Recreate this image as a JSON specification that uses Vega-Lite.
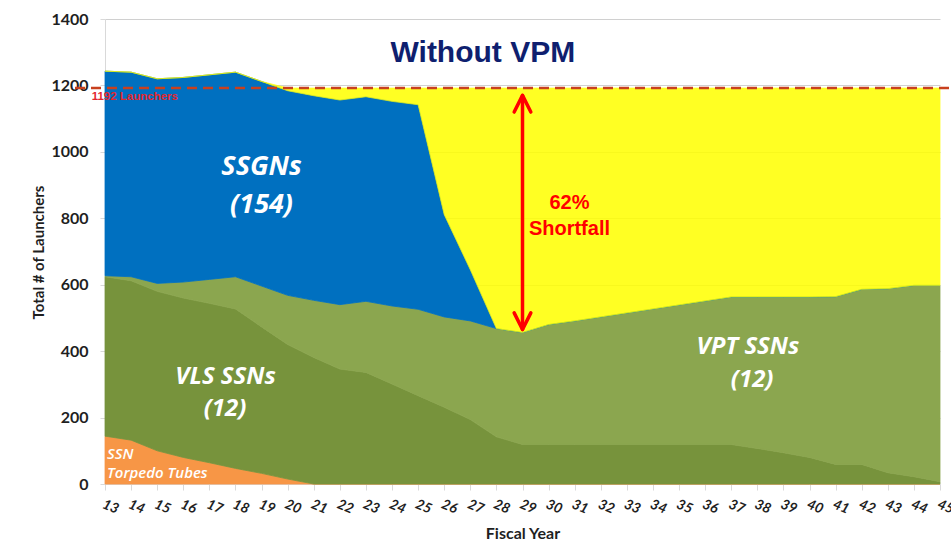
{
  "$schema": "https://vega.github.io/schema/vega-lite/v6.json",
  "width": 835,
  "height": 465,
  "autosize": {"type": "none"},
  "padding": {"left": 105, "top": 19, "right": 11, "bottom": 64},
  "background": "white",
  "config": {"view": {"stroke": null}, "font": "Lato"},
  "layer": [
    {
      "data": {
        "values": [
          {"fy": 13, "s1_torpedo": 144, "s2_vls": 480, "s3_vpt": 3, "s4_ssgn": 616, "s5_gap": 0},
          {"fy": 14, "s1_torpedo": 132, "s2_vls": 480, "s3_vpt": 12, "s4_ssgn": 616, "s5_gap": 0},
          {"fy": 15, "s1_torpedo": 100, "s2_vls": 480, "s3_vpt": 24, "s4_ssgn": 616, "s5_gap": 0},
          {"fy": 16, "s1_torpedo": 80, "s2_vls": 480, "s3_vpt": 48, "s4_ssgn": 616, "s5_gap": 0},
          {"fy": 17, "s1_torpedo": 64, "s2_vls": 480, "s3_vpt": 72, "s4_ssgn": 616, "s5_gap": 0},
          {"fy": 18, "s1_torpedo": 47, "s2_vls": 480, "s3_vpt": 97, "s4_ssgn": 616, "s5_gap": 0},
          {"fy": 19, "s1_torpedo": 32, "s2_vls": 441, "s3_vpt": 123, "s4_ssgn": 616, "s5_gap": 0},
          {"fy": 20, "s1_torpedo": 15, "s2_vls": 405, "s3_vpt": 148, "s4_ssgn": 616, "s5_gap": 8},
          {"fy": 21, "s1_torpedo": 0, "s2_vls": 381, "s3_vpt": 172, "s4_ssgn": 616, "s5_gap": 23},
          {"fy": 22, "s1_torpedo": 0, "s2_vls": 346, "s3_vpt": 194, "s4_ssgn": 616, "s5_gap": 36},
          {"fy": 23, "s1_torpedo": 0, "s2_vls": 336, "s3_vpt": 214, "s4_ssgn": 616, "s5_gap": 26},
          {"fy": 24, "s1_torpedo": 0, "s2_vls": 301, "s3_vpt": 235, "s4_ssgn": 616, "s5_gap": 40},
          {"fy": 25, "s1_torpedo": 0, "s2_vls": 266, "s3_vpt": 260, "s4_ssgn": 616, "s5_gap": 50},
          {"fy": 26, "s1_torpedo": 0, "s2_vls": 231, "s3_vpt": 272, "s4_ssgn": 308, "s5_gap": 381},
          {"fy": 27, "s1_torpedo": 0, "s2_vls": 194, "s3_vpt": 297, "s4_ssgn": 154, "s5_gap": 547},
          {"fy": 28, "s1_torpedo": 0, "s2_vls": 142, "s3_vpt": 326, "s4_ssgn": 0, "s5_gap": 724},
          {"fy": 29, "s1_torpedo": 0, "s2_vls": 119, "s3_vpt": 337, "s4_ssgn": 0, "s5_gap": 736},
          {"fy": 30, "s1_torpedo": 0, "s2_vls": 119, "s3_vpt": 361, "s4_ssgn": 0, "s5_gap": 712},
          {"fy": 31, "s1_torpedo": 0, "s2_vls": 119, "s3_vpt": 372, "s4_ssgn": 0, "s5_gap": 701},
          {"fy": 32, "s1_torpedo": 0, "s2_vls": 119, "s3_vpt": 384, "s4_ssgn": 0, "s5_gap": 689},
          {"fy": 33, "s1_torpedo": 0, "s2_vls": 119, "s3_vpt": 396, "s4_ssgn": 0, "s5_gap": 677},
          {"fy": 34, "s1_torpedo": 0, "s2_vls": 119, "s3_vpt": 408, "s4_ssgn": 0, "s5_gap": 665},
          {"fy": 35, "s1_torpedo": 0, "s2_vls": 119, "s3_vpt": 420, "s4_ssgn": 0, "s5_gap": 653},
          {"fy": 36, "s1_torpedo": 0, "s2_vls": 119, "s3_vpt": 432, "s4_ssgn": 0, "s5_gap": 641},
          {"fy": 37, "s1_torpedo": 0, "s2_vls": 119, "s3_vpt": 444, "s4_ssgn": 0, "s5_gap": 629},
          {"fy": 38, "s1_torpedo": 0, "s2_vls": 107, "s3_vpt": 456, "s4_ssgn": 0, "s5_gap": 629},
          {"fy": 39, "s1_torpedo": 0, "s2_vls": 94, "s3_vpt": 469, "s4_ssgn": 0, "s5_gap": 629},
          {"fy": 40, "s1_torpedo": 0, "s2_vls": 80, "s3_vpt": 483, "s4_ssgn": 0, "s5_gap": 629},
          {"fy": 41, "s1_torpedo": 0, "s2_vls": 59, "s3_vpt": 505, "s4_ssgn": 0, "s5_gap": 628},
          {"fy": 42, "s1_torpedo": 0, "s2_vls": 59, "s3_vpt": 527, "s4_ssgn": 0, "s5_gap": 606},
          {"fy": 43, "s1_torpedo": 0, "s2_vls": 34, "s3_vpt": 554, "s4_ssgn": 0, "s5_gap": 604},
          {"fy": 44, "s1_torpedo": 0, "s2_vls": 22, "s3_vpt": 576, "s4_ssgn": 0, "s5_gap": 594},
          {"fy": 45, "s1_torpedo": 0, "s2_vls": 7, "s3_vpt": 591, "s4_ssgn": 0, "s5_gap": 594}
        ]
      },
      "transform": [
        {"fold": ["s1_torpedo", "s2_vls", "s3_vpt", "s4_ssgn", "s5_gap"], "as": ["series", "launchers"]}
      ],
      "mark": {"type": "area", "strokeWidth": 0.8},
      "encoding": {
        "x": {
          "field": "fy",
          "type": "quantitative",
          "scale": {"domain": [13, 45], "nice": false, "zero": false},
          "axis": {
            "values": [13,14,15,16,17,18,19,20,21,22,23,24,25,26,27,28,29,30,31,32,33,34,35,36,37,38,39,40,41,42,43,44,45],
            "tickCount": 50,
            "format": "d",
            "title": "Fiscal  Year",
            "grid": false,
            "labelAngle": 22,
            "labelFontStyle": "italic",
            "labelFontWeight": "bold",
            "labelFontSize": 14,
            "labelColor": "#1F1F1F",
            "labelPadding": 7,
            "labelOverlap": false,
            "labelBound": false,
            "labelFlush": false,
            "domainColor": "#D9D9D9",
            "tickColor": "#D9D9D9",
            "tickSize": 6,
            "titleFontSize": 16,
            "titleFontWeight": "bold",
            "titleColor": "#1F1F1F",
            "titleY": 49,
            "titleBaseline": "middle"
          }
        },
        "y": {
          "field": "launchers",
          "type": "quantitative",
          "stack": "zero",
          "scale": {"domain": [0, 1400], "nice": false},
          "axis": {
            "values": [0, 200, 400, 600, 800, 1000, 1200, 1400],
            "tickCount": 20,
            "format": "d",
            "title": "Total  # of Launchers",
            "grid": true,
            "gridColor": "#D0D0D0",
            "labelFontWeight": "bold",
            "labelFontSize": 16,
            "labelColor": "#1F1F1F",
            "labelPadding": 12,
            "domainColor": "#D9D9D9",
            "tickColor": "#D9D9D9",
            "tickSize": 5,
            "titleFontSize": 15,
            "titleFontWeight": "bold",
            "titleColor": "#1F1F1F",
            "titleX": -67,
            "titleY": 233,
            "titleAngle": -90,
            "titleAlign": "center",
            "titleBaseline": "middle"
          }
        },
        "color": {
          "field": "series",
          "type": "nominal",
          "scale": {
            "domain": ["s1_torpedo", "s2_vls", "s3_vpt", "s4_ssgn", "s5_gap"],
            "range": ["#F79646", "#77933C", "#8BA64F", "#0070C0", "#FFFF00"]
          },
          "legend": null
        },
        "stroke": {
          "field": "series",
          "type": "nominal",
          "scale": {
            "domain": ["s1_torpedo", "s2_vls", "s3_vpt", "s4_ssgn", "s5_gap"],
            "range": ["#F79646", "#77933C", "#8BA64F", "#0070C0", "#FFFF00"]
          },
          "legend": null
        },
        "opacity": {
          "condition": {"test": "datum.series === 's5_gap'", "value": 0.86},
          "value": 1
        },
        "order": {"field": "series", "sort": "ascending"}
      }
    },
    {
      "data": {"values": [{"start": 11.85, "end": 45.5, "level": 1192}]},
      "mark": {"type": "rule", "color": "#C8401E", "strokeWidth": 2.5, "strokeDash": [10, 6]},
      "encoding": {
        "x": {"field": "start", "type": "quantitative"},
        "x2": {"field": "end"},
        "y": {"field": "level", "type": "quantitative"}
      }
    },
    {
      "data": {"values": [{"fy": 12.49, "v": 1166, "label": "1192  Launchers"}]},
      "mark": {"type": "text", "align": "left", "baseline": "middle", "font": "Liberation Sans Narrow, Liberation Sans", "fontWeight": "bold", "fontSize": 11.5, "color": "#E3262E"},
      "encoding": {
        "x": {"field": "fy", "type": "quantitative"},
        "y": {"field": "v", "type": "quantitative"},
        "text": {"field": "label"}
      }
    },
    {
      "data": {"values": [{"fy": 27.48, "v": 1299, "label": "Without VPM"}]},
      "mark": {"type": "text", "align": "center", "baseline": "middle", "font": "Liberation Sans", "fontWeight": "bold", "fontSize": 30, "color": "#0F1F6F"},
      "encoding": {
        "x": {"field": "fy", "type": "quantitative"},
        "y": {"field": "v", "type": "quantitative"},
        "text": {"field": "label"}
      }
    },
    {
      "data": {"values": [{"fy": 29, "top": 1170, "bottom": 465}]},
      "mark": {"type": "rule", "color": "#FF0000", "strokeWidth": 3.5, "strokeCap": "round"},
      "encoding": {
        "x": {"field": "fy", "type": "quantitative"},
        "y": {"field": "top", "type": "quantitative"},
        "y2": {"field": "bottom"}
      }
    },
    {
      "data": {"values": [{"fy": 29, "v": 1170}]},
      "mark": {"type": "point", "shape": "M-0.5,1L0,0L0.5,1", "filled": false, "size": 1111, "color": "#FF0000", "strokeWidth": 3.5, "strokeCap": "round", "strokeJoin": "round", "opacity": 1},
      "encoding": {
        "x": {"field": "fy", "type": "quantitative"},
        "y": {"field": "v", "type": "quantitative"}
      }
    },
    {
      "data": {"values": [{"fy": 29, "v": 465}]},
      "mark": {"type": "point", "shape": "M-0.5,-1L0,0L0.5,-1", "filled": false, "size": 1111, "color": "#FF0000", "strokeWidth": 3.5, "strokeCap": "round", "strokeJoin": "round", "opacity": 1},
      "encoding": {
        "x": {"field": "fy", "type": "quantitative"},
        "y": {"field": "v", "type": "quantitative"}
      }
    },
    {
      "data": {"values": [{"fy": 30.8, "v": 845, "label": "62%"}, {"fy": 30.8, "v": 769, "label": "Shortfall"}]},
      "mark": {"type": "text", "align": "center", "baseline": "middle", "font": "Liberation Sans", "fontWeight": "bold", "fontSize": 20, "color": "#FF0000"},
      "encoding": {
        "x": {"field": "fy", "type": "quantitative"},
        "y": {"field": "v", "type": "quantitative"},
        "text": {"field": "label"}
      }
    },
    {
      "data": {"values": [{"fy": 19.0, "v": 953, "label": "SSGNs"}, {"fy": 19.0, "v": 839, "label": "(154)"}]},
      "mark": {"type": "text", "align": "center", "baseline": "middle", "font": "Open Sans", "fontWeight": "bold", "fontStyle": "italic", "fontSize": 27, "color": "white"},
      "encoding": {
        "x": {"field": "fy", "type": "quantitative"},
        "y": {"field": "v", "type": "quantitative"},
        "text": {"field": "label"}
      }
    },
    {
      "data": {"values": [
        {"fy": 17.62, "v": 321, "label": "VLS SSNs"},
        {"fy": 17.6, "v": 225, "label": "(12)"},
        {"fy": 37.64, "v": 413, "label": "VPT SSNs"},
        {"fy": 37.8, "v": 312, "label": "(12)"}
      ]},
      "mark": {"type": "text", "align": "center", "baseline": "middle", "font": "Open Sans", "fontWeight": "bold", "fontStyle": "italic", "fontSize": 24, "color": "white"},
      "encoding": {
        "x": {"field": "fy", "type": "quantitative"},
        "y": {"field": "v", "type": "quantitative"},
        "text": {"field": "label"}
      }
    },
    {
      "data": {"values": [
        {"fy": 13.08, "v": 90, "label": "SSN"},
        {"fy": 13.08, "v": 32, "label": "Torpedo Tubes"}
      ]},
      "mark": {"type": "text", "align": "left", "baseline": "middle", "font": "Open Sans", "fontWeight": 600, "fontStyle": "italic", "fontSize": 15, "color": "white"},
      "encoding": {
        "x": {"field": "fy", "type": "quantitative"},
        "y": {"field": "v", "type": "quantitative"},
        "text": {"field": "label"}
      }
    }
  ]
}
